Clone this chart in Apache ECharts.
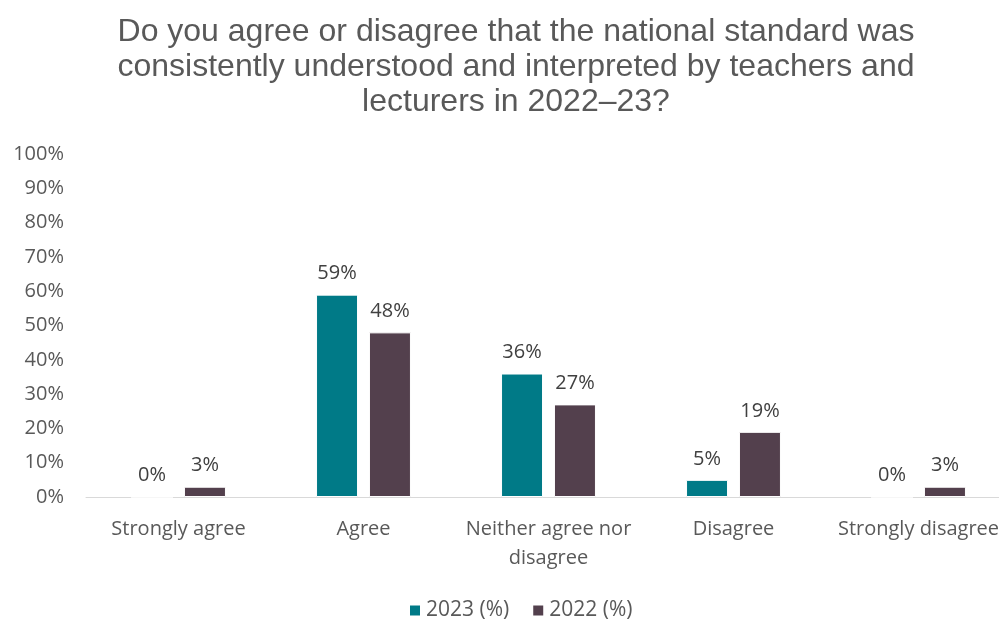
<!DOCTYPE html>
<html>
<head>
<meta charset="utf-8">
<script src="https://cdn.jsdelivr.net/npm/echarts@6/dist/echarts.min.js"></script>
<style>
  html, body { margin: 0; padding: 0; background: #fff; }
  #chart { width: 999px; height: 621px; }
</style>
</head>
<body>
<div id="chart"></div>
<script>
// categories and values
var categories = ['Strongly agree', 'Agree', 'Neither agree nor\ndisagree', 'Disagree', 'Strongly disagree'];
var values2023 = [0, 59, 36, 5, 0];
var values2022 = [3, 48, 27, 19, 3];
var yTicks = [0, 10, 20, 30, 40, 50, 60, 70, 80, 90, 100];

var labelFont = '"Open Sans", sans-serif';
var grey = '#595959';

var myChart = echarts.init(document.getElementById('chart'));

var barLabel = {
  show: true,
  position: 'top',
  distance: 11,
  formatter: '{c}%',
  fontFamily: labelFont,
  fontSize: 20,
  color: '#404040'
};

var option = {
  title: {
    text: 'Do you agree or disagree that the national standard was\nconsistently understood and interpreted by teachers and\nlecturers in 2022\u201323?',
    left: 511,
    textAlign: 'center',
    top: 10,
    textStyle: {
      fontFamily: '"Liberation Sans", Arial, sans-serif',
      fontWeight: 'normal',
      fontSize: 32,
      lineHeight: 35,
      color: grey
    }
  },
  legend: {
    top: 595,
    left: 403,
    itemWidth: 12,
    itemHeight: 12,
    itemGap: 22,
    icon: 'rect',
    textStyle: { fontFamily: labelFont, fontSize: 21, color: grey },
    data: ['2023 (%)', '2022 (%)']
  },
  grid: {
    left: 86,
    width: 925,
    top: 154,
    bottom: 124,
    containLabel: false,
    outerBoundsMode: 'none'
  },
  xAxis: {
    type: 'category',
    data: categories,
    axisLine: { lineStyle: { color: '#d9d9d9' } },
    axisTick: { show: false },
    axisLabel: {
      fontFamily: labelFont,
      fontSize: 20,
      color: grey,
      margin: 18,
      lineHeight: 29,
      interval: 0
    }
  },
  yAxis: {
    type: 'value',
    min: 0,
    max: 100,
    interval: 10,
    splitLine: { show: false },
    axisLine: { show: false },
    axisTick: { show: false },
    axisLabel: {
      fontFamily: labelFont,
      fontSize: 20,
      color: grey,
      margin: 22,
      formatter: function (v) { return yTicks.indexOf(v) >= 0 ? v + '%' : ''; }
    }
  },
  series: [
    {
      name: '2023 (%)',
      type: 'bar',
      data: values2023,
      barWidth: 42,
      barGap: '26%',
      itemStyle: { color: '#007A87', borderColor: '#fff', borderWidth: 1 },
      label: barLabel
    },
    {
      name: '2022 (%)',
      type: 'bar',
      data: values2022,
      barWidth: 42,
      itemStyle: { color: '#53404D', borderColor: '#fff', borderWidth: 1 },
      label: barLabel
    }
  ]
};

myChart.setOption(option);
</script>
</body>
</html>
